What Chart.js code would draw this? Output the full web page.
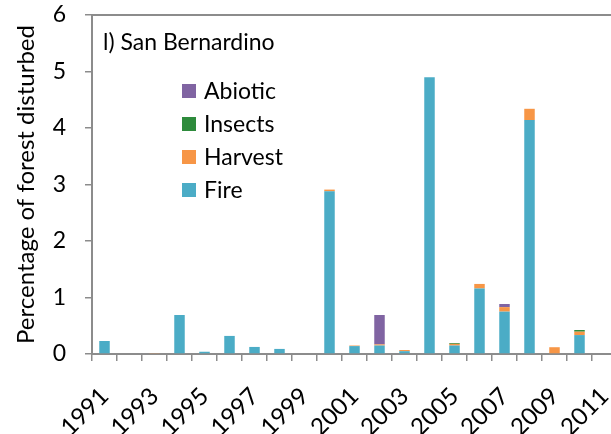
<!DOCTYPE html>
<html>
<head>
<meta charset="utf-8">
<script src="https://cdn.jsdelivr.net/npm/chart.js@4"></script>
<style>
  html, body { margin: 0; padding: 0; overflow: hidden; background: #fff; }
  #wrap { position: absolute; left: 0; top: 0; width: 618px; height: 434px; }
</style>
</head>
<body>
<div id="wrap"><canvas id="chart"></canvas></div>
<script>
const years = ["1991","1992","1993","1994","1995","1996","1997","1998","1999","2000",
  "2001","2002","2003","2004","2005","2006","2007","2008","2009","2010","2011"]

const fire =    [0.23, 0, 0, 0.69, 0.04, 0.32, 0.125, 0.09, 0, 2.88, 0.14, 0.15, 0.05, 4.9, 0.15, 1.16, 0.75, 4.14, 0, 0.335, 0]
const harvest = [0, 0, 0.01, 0, 0, 0, 0, 0, 0, 0.03, 0.01, 0.02, 0.02, 0, 0.03, 0.08, 0.08, 0.2, 0.12, 0.06, 0]
const insects = [0, 0, 0, 0, 0, 0, 0, 0, 0, 0, 0, 0, 0, 0, 0.015, 0, 0, 0, 0, 0.03, 0]
const abiotic = [0, 0, 0, 0, 0, 0, 0, 0, 0, 0, 0, 0.52, 0, 0, 0, 0, 0.055, 0, 0, 0, 0]

const panelLabel = "l) San Bernardino"
const axisGrey = "#8c8c8c"
const font = "Lato"

// panel label, top border and the legend inside the plot
const insideLegend = {
  id: "insideLegend",
  afterDraw(chart) {
    const ctx = chart.ctx
    const area = chart.chartArea
    ctx.save()
    ctx.strokeStyle = axisGrey
    ctx.lineWidth = 2
    ctx.beginPath()
    ctx.moveTo(area.left, area.top)
    ctx.lineTo(area.right, area.top)
    ctx.stroke()

    ctx.font = "23px " + font
    ctx.fillStyle = "#000"
    ctx.textBaseline = "middle"
    ctx.textAlign = "left"
    ctx.fillText(panelLabel, 103, 43)

    const items = chart.data.datasets.slice().reverse()
    items.forEach((ds, i) => {
      const y = 91 + i * 33
      ctx.fillStyle = ds.backgroundColor
      ctx.fillRect(182, y - 7, 14, 14)
      ctx.fillStyle = "#000"
      ctx.fillText(ds.label, 204, y + 1)
    })
    ctx.restore()
  }
}

new Chart(document.getElementById("chart"), {
  type: "bar",
  data: {
    labels: years,
    datasets: [
      { label: "Fire", data: fire, backgroundColor: "#4bacc6" },
      { label: "Harvest", data: harvest, backgroundColor: "#f79646" },
      { label: "Insects", data: insects, backgroundColor: "#2e8b3c" },
      { label: "Abiotic", data: abiotic, backgroundColor: "#8064a2" }
    ]
  },
  options: {
    responsive: true,
    maintainAspectRatio: false,
    animation: false,
    layout: { padding: { top: 15, right: 1, left: 0, bottom: 0 } },
    datasets: {
      bar: { barPercentage: 0.42, categoryPercentage: 1.0 }
    },
    plugins: {
      legend: { display: false },
      tooltip: { enabled: false }
    },
    scales: {
      x: {
        stacked: true,
        afterFit(scale) {
          scale.height = 80
          scale.paddingLeft = 0
          scale.paddingRight = 0
        },
        border: { color: axisGrey, width: 2 },
        grid: {
          offset: true,
          drawOnChartArea: false,
          color: axisGrey,
          tickLength: 7,
          lineWidth: 1.5
        },
        ticks: {
          autoSkip: false,
          maxRotation: 45,
          minRotation: 45,
          padding: 21,
          color: "#000",
          font: { family: font, size: 24 },
          callback: (v, i) => (i % 2 === 0 ? years[i] : "")
        }
      },
      y: {
        stacked: true,
        min: 0,
        max: 6,
        afterFit(scale) {
          scale.width = 92
          scale.paddingTop = 0
          scale.paddingBottom = 0
        },
        border: { color: axisGrey, width: 2 },
        grid: {
          drawOnChartArea: false,
          color: axisGrey,
          tickLength: 7,
          lineWidth: 1.5
        },
        ticks: {
          stepSize: 0.5,
          padding: 19,
          color: "#000",
          font: { family: font, size: 23 },
          callback: v => (Number.isInteger(v) ? v : "")
        },
        title: {
          display: true,
          text: "Percentage of forest disturbed",
          color: "#000",
          font: { family: font, size: 24 },
          padding: { top: 12, bottom: 0 }
        }
      }
    }
  },
  plugins: [insideLegend]
})
</script>
</body>
</html>
